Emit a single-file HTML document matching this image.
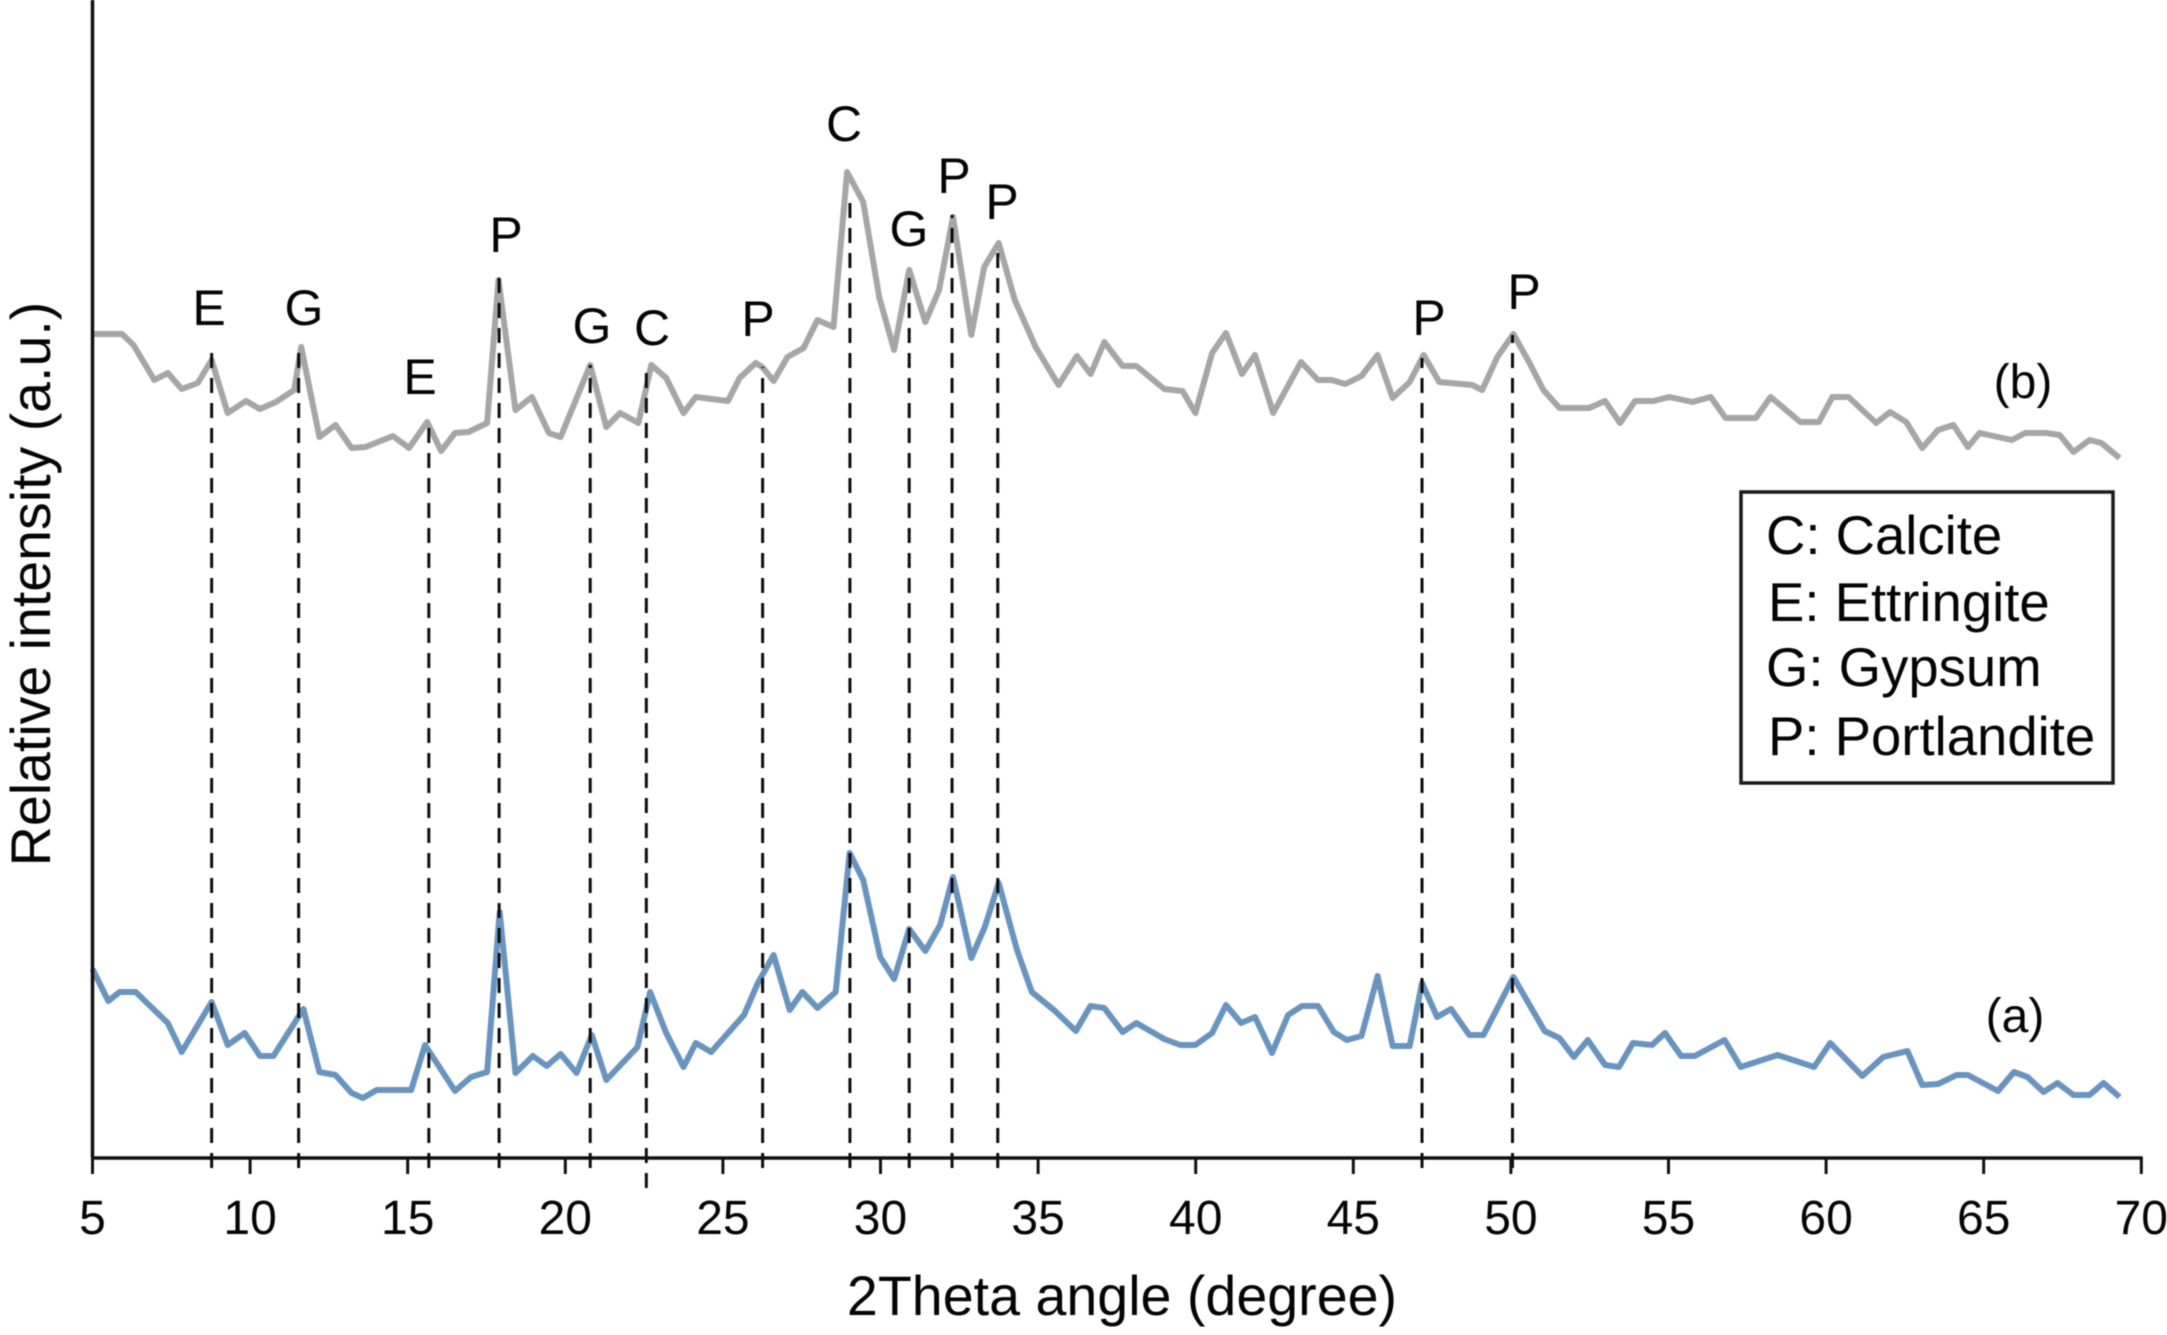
<!DOCTYPE html>
<html lang="en">
<head>
<meta charset="utf-8">
<title>XRD patterns</title>
<style>
html,body{margin:0;padding:0;background:#fff;width:2167px;height:1335px;overflow:hidden}
svg{display:block;filter:blur(0.5px)}
text{font-family:"Liberation Sans",Arial,sans-serif;fill:#050505}
</style>
</head>
<body>
<svg id="chart" xmlns="http://www.w3.org/2000/svg" width="2167" height="1335" viewBox="0 0 2167 1335">
  <rect x="0" y="0" width="2167" height="1335" fill="#fff"/>
  <g id="series"></g>
  <g id="refs"></g>
  <g id="axes"></g>

  <g font-size="50" text-anchor="middle">
    <text x="209" y="325">E</text>
    <text x="304" y="325">G</text>
    <text x="420" y="394">E</text>
    <text x="506" y="252">P</text>
    <text x="592" y="343">G</text>
    <text x="652" y="345">C</text>
    <text x="758" y="336">P</text>
    <text x="844" y="141">C</text>
    <text x="909" y="246">G</text>
    <text x="954" y="193">P</text>
    <text x="1002" y="219">P</text>
    <text x="1429" y="335">P</text>
    <text x="1524" y="309">P</text>
  </g>

  <text x="2023" y="398" font-size="48" text-anchor="middle">(b)</text>
  <text x="2015" y="1032" font-size="48" text-anchor="middle">(a)</text>

  <g>
    <rect x="1741" y="492" width="372" height="291" fill="#fff" stroke="#1c1c1c" stroke-width="3.5"/>
    <text x="1766" y="554" font-size="54.5">C: Calcite</text>
    <text x="1768" y="621" font-size="54.5">E: Ettringite</text>
    <text x="1766" y="686" font-size="54.5">G: Gypsum</text>
    <text x="1768" y="755" font-size="54.5">P: Portlandite</text>
  </g>

  <text x="1122" y="1315" font-size="55.6" text-anchor="middle">2Theta angle (degree)</text>
  <text transform="translate(50 584) rotate(-90)" font-size="55.5" text-anchor="middle">Relative intensity (a.u.)</text>
</svg>

<script>
const xTickLabels = [5,10,15,20,25,30,35,40,45,50,55,60,65,70];

const thetaB = [5,5.94,6.3,6.96,7.39,7.83,8.34,8.78,9.29,9.87,10.31,10.82,11.4,11.62,12.2,12.71,13.22,13.66,14.53,15.04,15.62,16.06,16.5,16.93,17.52,17.88,18.42,18.94,19.48,19.85,20.79,21.3,21.74,22.32,22.73,23.2,23.75,24.14,25.16,25.53,26.04,26.25,26.61,27.05,27.56,28,28.51,28.94,29.45,29.96,30.43,30.91,31.42,31.86,32.3,32.88,33.29,33.75,34.26,34.92,35.65,36.23,36.67,37.1,37.68,38.12,39,39.58,39.99,40.52,40.96,41.47,41.88,42.46,43.34,43.88,44.31,44.75,45.26,45.77,46.25,46.79,47.23,47.73,48.77,49.09,49.57,50.08,50.59,51.03,51.54,52.48,52.99,53.46,53.94,54.52,55.03,55.76,56.34,56.81,57.77,58.24,59.18,59.77,60.2,60.71,61.59,62.03,62.54,63.05,63.55,64.04,64.5,64.87,65.89,66.32,66.98,67.41,67.85,68.36,68.73,69.31];
const intensityB = [82.4,82.4,81.3,77.8,78.5,76.9,77.5,79.8,74.5,75.7,74.9,75.6,76.8,81.1,72.1,73.3,71,71.1,72.2,71,73.6,70.7,72.5,72.6,73.5,87.8,74.8,76.1,72.5,72.1,79.3,73.1,74.5,73.5,79.3,78,74.5,76.1,75.7,78,79.5,79.1,77.7,80.1,81,83.8,83.1,98.6,95.6,86.1,80.8,88.8,83.6,86.8,94.1,82.3,89.1,91.5,85.8,81.1,77.3,80.2,78.4,81.6,79.2,79.2,76.9,76.7,74.5,80.5,82.5,78.4,80.3,74.5,79.6,77.8,77.8,77.4,78.2,80.3,76,77.6,80.3,77.6,77.3,76.8,80.1,82.4,79.5,76.8,75,75,75.7,73.5,75.7,75.7,76.1,75.6,76.1,74,74,76.1,73.6,73.6,76.1,76.1,73.5,74.6,73.6,71,72.8,73.3,71.1,72.5,71.8,72.5,72.5,72.3,70.6,71.8,71.5,70];

const thetaA = [5,5.5,5.86,6.37,7.39,7.83,8.78,9.29,9.83,10.31,10.74,11.69,12.2,12.71,13.22,13.58,14.02,15.11,15.55,16.5,17.01,17.52,17.92,18.42,18.97,19.41,19.85,20.36,20.84,21.3,22.29,22.69,23.2,23.75,24.14,24.63,25.67,26.11,26.61,27.12,27.52,28,28.58,29.02,29.45,29.99,30.43,30.91,31.42,31.89,32.3,32.88,33.31,33.75,34.33,34.8,35.5,36.2,36.66,37.1,37.68,38.12,39,39.51,39.99,40.52,40.96,41.44,41.88,42.42,42.93,43.37,43.88,44.38,44.79,45.26,45.77,46.25,46.79,47.18,47.66,48.1,48.68,49.13,50.08,51.07,51.54,52,52.44,52.99,53.43,53.87,54.48,54.89,55.4,55.83,56.78,57.29,58.46,59.62,60.13,61.15,61.81,62.58,63.05,63.55,64.14,64.5,65.45,65.96,66.39,66.9,67.34,67.85,68.36,68.8,69.31];
const intensityA = [18.9,15.7,16.6,16.6,13.5,10.6,15.6,11.3,12.5,10.2,10.2,14.9,8.6,8.3,6.5,6,6.8,6.8,11.3,6.7,8.1,8.6,24.6,8.5,10.2,9.2,10.4,8.5,12.3,7.8,11.1,16.6,12.5,9.1,11.5,10.6,14.3,17.5,20.3,14.8,16.6,15,16.6,30.5,27.8,20.1,17.9,22.9,20.7,23.3,28.1,20,23.1,27.5,20.8,16.6,14.8,12.7,15.2,15,12.6,13.5,11.9,11.3,11.3,12.5,15.3,13.5,14.1,10.5,14.3,15.2,15.2,12.6,11.8,12.2,18.2,11.2,11.2,17.5,14.1,14.9,12.3,12.3,18.1,12.7,12,10.1,11.8,9.3,9.1,11.5,11.3,12.5,10.2,10.2,11.8,9.1,10.3,9.1,11.5,8.2,10.1,10.7,7.3,7.4,8.3,8.3,6.7,8.6,8.1,6.6,7.5,6.3,6.3,7.5,6.1];

const peakTheta = [8.78,11.54,15.67,17.9,20.79,22.57,26.26,29.03,30.91,32.27,33.72,47.18,50.05];
const peakTop = [80.5,81.3,74,88,79.3,78.5,79.1,96,89,94.3,91.3,80,82.3];
const peakBottom = [-1,-1,-1,-1,-1,-3,-1,-1,-1,-1,-1,-1,-1];

const SVG_NS = 'http://www.w3.org/2000/svg';
const xAxis = t => 92.5 + (t - 5) * 31.52;
const yAxis = v => 1158 - v * 10;

function make(tag, parent) {
  const el = document.createElementNS(SVG_NS, tag);
  parent.appendChild(el);
  return el;
}

const seriesGroup = document.getElementById('series');
function drawSeries(thetas, values, color) {
  const path = make('polyline', seriesGroup);
  path.setAttribute('points', thetas.map((t, i) => xAxis(t).toFixed(1) + ',' + yAxis(values[i]).toFixed(1)).join(' '));
  path.setAttribute('fill', 'none');
  path.setAttribute('stroke', color);
  path.setAttribute('stroke-width', '6');
  path.setAttribute('stroke-linejoin', 'round');
  return path;
}
const lineB = drawSeries(thetaB, intensityB, '#a6a6a6');


const lineA = drawSeries(thetaA, intensityA, '#6a94c0');



const refsGroup = document.getElementById('refs');
peakTheta.forEach((t, i) => {
  const line = make('line', refsGroup);
  
  
  line.setAttribute('x1', xAxis(t));
  line.setAttribute('x2', xAxis(t));
  line.setAttribute('y1', yAxis(peakBottom[i]));
  line.setAttribute('y2', yAxis(peakTop[i]));
  line.setAttribute('stroke', '#0d0d0d');
  line.setAttribute('stroke-width', '3');
  line.setAttribute('stroke-dasharray', '15 10');
});

const axesGroup = document.getElementById('axes');
const yAxisLine = make('line', axesGroup);


yAxisLine.setAttribute('x1', xAxis(5));
yAxisLine.setAttribute('x2', xAxis(5));
yAxisLine.setAttribute('y1', 0);
yAxisLine.setAttribute('y2', yAxis(0));
yAxisLine.setAttribute('stroke', '#111');
yAxisLine.setAttribute('stroke-width', '3.5');

const xAxisLine = make('line', axesGroup);


xAxisLine.setAttribute('x1', xAxis(5) - 1.5);
xAxisLine.setAttribute('x2', xAxis(70) + 1.5);
xAxisLine.setAttribute('y1', yAxis(0));
xAxisLine.setAttribute('y2', yAxis(0));
xAxisLine.setAttribute('stroke', '#111');
xAxisLine.setAttribute('stroke-width', '3.5');

xTickLabels.forEach(t => {
  const tick = make('line', axesGroup);
  
  
  tick.setAttribute('x1', xAxis(t));
  tick.setAttribute('x2', xAxis(t));
  tick.setAttribute('y1', yAxis(0));
  tick.setAttribute('y2', yAxis(0) + 16);
  tick.setAttribute('stroke', '#111');
  tick.setAttribute('stroke-width', '3');

  const label = make('text', axesGroup);
  
  
  label.setAttribute('x', xAxis(t));
  label.setAttribute('y', 1234);
  label.setAttribute('font-size', '48');
  label.setAttribute('text-anchor', 'middle');
  label.textContent = t;
});
</script>
</body>
</html>
